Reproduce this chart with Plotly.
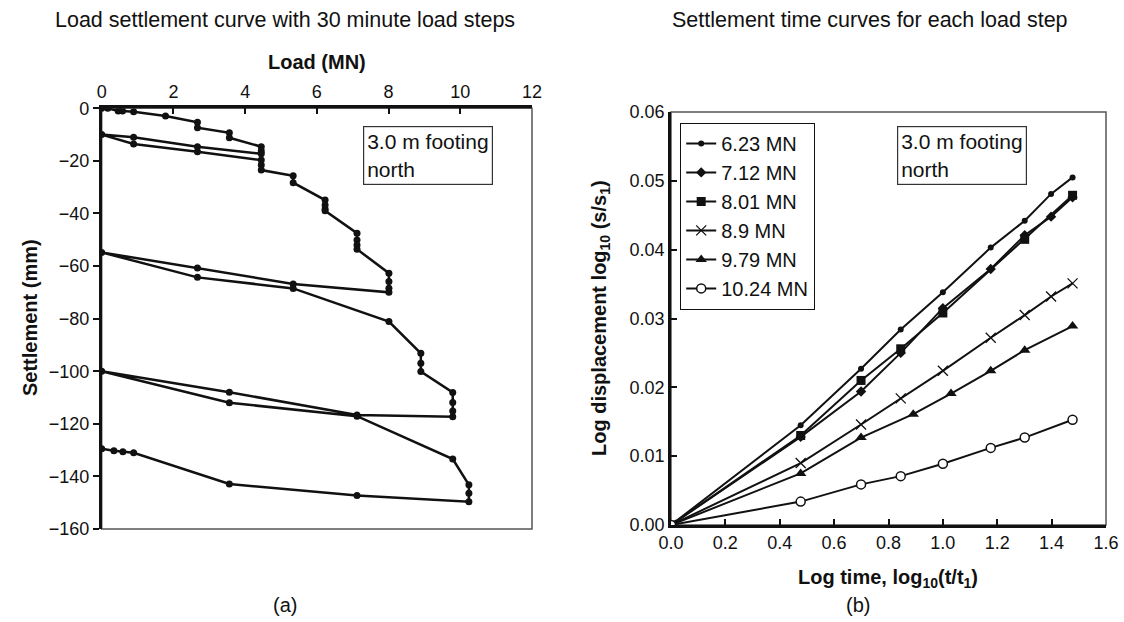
import plotly.graph_objects as go

# ---- (a) load-settlement record, in test order ----
load_mn = [0, 0.17, 0.46, 0.58, 0.89, 1.78, 2.67, 2.67, 3.56, 3.56, 4.45, 4.45, 4.45,
           2.67, 0.89, 0,
           0.89, 2.67, 4.45, 4.45, 4.45,
           5.34, 5.34, 6.23, 6.23, 6.23, 6.23, 7.12, 7.12, 7.12, 7.12,
           8.01, 8.01, 8.01, 8.01,
           5.34, 2.67, 0,
           2.67, 5.34, 8.01,
           8.9, 8.9, 8.9, 9.79, 9.79, 9.79, 9.79,
           7.12, 3.56, 0,
           3.56, 7.12, 9.79,
           10.24, 10.24, 10.24,
           7.12, 3.56, 0.89, 0.59, 0.34, 0]
settlement_mm = [0, 0, -1.0, -1.0, -1.3, -2.9, -5.3, -7.4, -9.3, -11.2, -14.6, -16.2, -17.3,
                 -14.6, -11.0, -10.0,
                 -13.6, -16.5, -19.7, -21.6, -23.5,
                 -25.7, -28.3, -34.9, -36.8, -38.3, -39.0, -47.5, -50.1, -52.0, -53.6,
                 -62.7, -65.9, -68.4, -70.0,
                 -66.8, -60.7, -54.8,
                 -64.3, -68.5, -81.1,
                 -93.2, -97.0, -100.1, -108.1, -111.9, -115.1, -117.3,
                 -116.6, -108.0, -100.0,
                 -112.0, -117.1, -133.4,
                 -143.2, -146.4, -149.6,
                 -147.3, -142.9, -131.0, -130.6, -130.2, -129.5]

# ---- (b) settlement-time curves, log10(t/t1) vs log10(s/s1) ----
logt_623 = [0, 0.477, 0.699, 0.845, 1.0, 1.176, 1.301, 1.398, 1.477]
logs_623 = [0, 0.0145, 0.0227, 0.0284, 0.0338, 0.0403, 0.0442, 0.0481, 0.0505]
logt_712 = [0, 0.477, 0.699, 0.845, 1.0, 1.176, 1.301, 1.398, 1.477]
logs_712 = [0, 0.0128, 0.0194, 0.0250, 0.0315, 0.0372, 0.0421, 0.0448, 0.0476]
logt_801 = [0, 0.477, 0.699, 0.845, 1.0, 1.301, 1.477]
logs_801 = [0, 0.0130, 0.0210, 0.0256, 0.0308, 0.0415, 0.0479]
logt_890 = [0, 0.477, 0.699, 0.845, 1.0, 1.176, 1.301, 1.398, 1.477]
logs_890 = [0, 0.0090, 0.0146, 0.0184, 0.0224, 0.0272, 0.0305, 0.0332, 0.0351]
logt_979 = [0, 0.477, 0.699, 0.891, 1.03, 1.176, 1.301, 1.477]
logs_979 = [0, 0.0075, 0.0127, 0.0161, 0.0191, 0.0224, 0.0254, 0.0289]
logt_1024 = [0, 0.477, 0.699, 0.845, 1.0, 1.176, 1.301, 1.477]
logs_1024 = [0, 0.0034, 0.0059, 0.0071, 0.0089, 0.0112, 0.0127, 0.0153]

series_names = ["6.23 MN", "7.12 MN", "8.01 MN", "8.9 MN", "9.79 MN", "10.24 MN"]

W, H = 1124, 622
FONT = "Liberation Sans, Arial, Helvetica, sans-serif"
TICK = 18
TXT = 21
AXT = 20

def px(x):
    return x / W

def py(y):
    return 1 - y / H

fig = go.Figure()

fig.add_trace(go.Scatter(
    x=load_mn, y=settlement_mm, mode="lines+markers",
    line=dict(color="#111", width=2.5),
    marker=dict(symbol="circle", size=7, color="#111"),
    xaxis="x", yaxis="y", showlegend=False))

styles = [
    dict(symbol="circle", size=6, color="#111"),
    dict(symbol="diamond", size=8, color="#111"),
    dict(symbol="square", size=9, color="#111"),
    dict(symbol="x-thin", size=10, color="#111", line=dict(color="#111", width=1.3)),
    dict(symbol="triangle-up", size=10, color="#111"),
    dict(symbol="circle", size=9, color="white", line=dict(color="#111", width=1.5)),
]
curves = [(logt_623, logs_623), (logt_712, logs_712), (logt_801, logs_801),
          (logt_890, logs_890), (logt_979, logs_979), (logt_1024, logs_1024)]
for name, (tx, sy), mk in zip(series_names, curves, styles):
    fig.add_trace(go.Scatter(
        x=tx, y=sy, mode="lines+markers", name=name,
        line=dict(color="#111", width=2), marker=mk,
        xaxis="x2", yaxis="y2"))

axis_common = dict(
    showgrid=False, zeroline=False, showline=True, linecolor="#111", linewidth=2.5,
    tickcolor="#111", tickwidth=1.5, ticklen=6,
    tickfont=dict(family=FONT, size=TICK, color="#111"))

fig.update_layout(
    width=W, height=H,
    margin=dict(l=0, r=0, t=0, b=0, autoexpand=False),
    paper_bgcolor="white", plot_bgcolor="white",
    font=dict(family=FONT, size=TXT, color="#111"),
    xaxis=dict(domain=[px(101.7), px(532)], range=[0, 12], dtick=2, side="top",
               ticks="inside", anchor="y", **axis_common),
    yaxis=dict(domain=[py(529), py(108.3)], range=[-160, 0], dtick=20,
               ticks="outside", anchor="x", **axis_common),
    xaxis2=dict(domain=[px(671), px(1106)], range=[0, 1.6], dtick=0.2, tickformat=".1f",
                ticks="inside", anchor="y2", **axis_common),
    yaxis2=dict(domain=[py(525), py(112)], range=[0, 0.06], dtick=0.01, tickformat=".2f",
                ticks="inside", anchor="x2", **axis_common),
    legend=dict(x=px(680), y=py(122.7), xanchor="left", yanchor="top",
                bordercolor="#111", borderwidth=1.2, bgcolor="white",
                font=dict(family=FONT, size=20, color="#111"),
                itemwidth=30, tracegroupgap=0),
)

# lighter frame on the remaining two sides of each panel
for xr, yr in (("x domain", "y domain"), ("x2 domain", "y2 domain")):
    fig.add_shape(type="rect", xref=xr, yref=yr, x0=0, x1=1, y0=0, y1=1,
                  line=dict(color="#555", width=1.5), layer="below")

def note(text, x, y, size=TXT, **kw):
    fig.add_annotation(text=text, x=px(x), y=py(y), xref="paper", yref="paper",
                       xanchor="center", yanchor="middle", showarrow=False,
                       font=dict(family=FONT, size=size, color="#111"), **kw)

note("Load settlement curve with 30 minute load steps", 285, 20, size=21.5)
note("Settlement time curves for each load step", 870, 20, size=21.5)
note("<b>Load (MN)</b>", 317, 62, size=AXT)
note("<b>Settlement (mm)</b>", 30, 318, size=AXT, textangle=-90)
note("<b>Log displacement log<sub>10</sub> (s/s<sub>1</sub>)</b>", 600, 318, size=AXT, textangle=-90)
note("<b>Log time, log<sub>10</sub>(t/t<sub>1</sub>)</b>", 888, 578, size=AXT)
note("(a)", 285, 605, size=20)
note("(b)", 858, 605, size=20)

for x0 in (363, 897):
    fig.add_annotation(text="3.0 m footing<br>north", x=px(x0), y=py(125.5),
                       xref="paper", yref="paper", xanchor="left", yanchor="top",
                       align="left", showarrow=False, bordercolor="#333", borderwidth=1.2,
                       borderpad=3, bgcolor="white",
                       font=dict(family=FONT, size=TXT, color="#111"))

fig.write_html("out.html")
